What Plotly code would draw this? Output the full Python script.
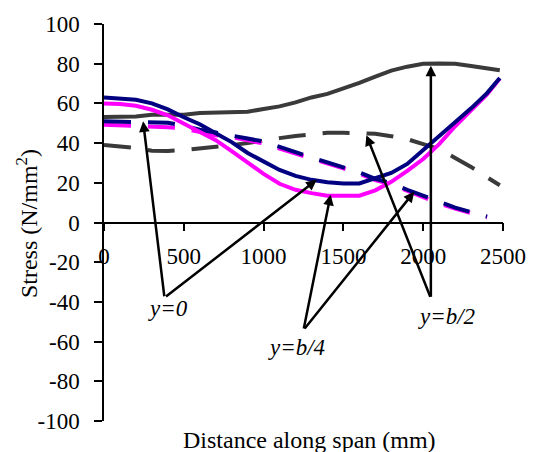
import plotly.graph_objects as go

# Distance along span (mm)
dist = [0, 100, 200, 300, 400, 500, 600, 700, 800, 900, 1000, 1100, 1200,
        1300, 1400, 1500, 1600, 1700, 1800, 1900, 2000, 2100, 2200, 2300,
        2400, 2480]

# Stress (N/mm^2) along the span
gray_solid = [53.2, 53.2, 53.4, 54.3, 54.3, 54.3, 55.2, 55.5, 55.6, 55.8,
              57.2, 58.5, 60.5, 63.0, 64.8, 67.5, 70.3, 73.5, 76.5, 78.5,
              80.0, 80.1, 80.0, 78.8, 77.8, 76.7]
gray_dash = [39.0, 38.3, 37.5, 36.2, 36.0, 36.5, 37.2, 38.0, 39.0, 40.0,
             41.5, 42.5, 43.6, 44.5, 45.2, 45.2, 45.2, 44.7, 43.5, 42.0,
             39.5, 37.0, 32.5, 28.0, 22.8, 18.8]
navy_solid = [63.0, 62.5, 61.8, 60.0, 57.0, 53.0, 49.5, 45.0, 40.5, 35.0,
              30.5, 26.5, 23.5, 21.5, 20.3, 19.7, 19.7, 22.5, 25.0, 29.5,
              36.5, 44.0, 51.0, 57.5, 65.2, 72.8]
magenta_solid = [60.0, 59.7, 58.8, 56.8, 54.0, 49.8, 45.2, 41.5, 36.0, 30.0,
                 24.5, 19.5, 16.5, 14.8, 13.5, 13.5, 13.5, 16.2, 20.5, 26.0,
                 32.0, 39.5, 48.5, 56.5, 64.5, 72.5]
navy_dash = [51.0, 50.8, 50.6, 50.5, 50.2, 48.8, 46.7, 45.3, 44.0, 42.3,
             40.8, 38.0, 35.6, 32.8, 30.3, 28.0, 25.2, 22.0, 19.8, 16.5,
             13.5, 10.0, 7.5, 5.2, 3.0, None]
magenta_dash = [49.2, 49.0, 48.5, 48.2, 48.0, 47.3, 45.5, 44.0, 43.0, 41.3,
                39.8, 37.2, 34.8, 32.0, 29.6, 27.3, 24.5, 21.4, 19.2, 16.0,
                13.0, 9.5, 7.0, 4.7, 2.5, None]

x_ticks = [0, 500, 1000, 1500, 2000, 2500]
y_ticks = [-100, -80, -60, -40, -20, 0, 20, 40, 60, 80, 100]
y_tick_text = ["-100", "-80", "-60", "-40", "-20", "0", "20", "40", "60", "80", "100"]

# Callout labels: (text, label position, arrow root, arrow targets)
callouts = [
    ("y=0", (404, -43.5), (379, -37.9), [(245, 51.0), (1333, 21.5)]),
    ("y=b/4", (1203, -63.0), (1250, -54.2), [(1420, 14.0), (1944, 15.5)]),
    ("y=b/2", (2146, -47.5), (2048, -38.2), [(2048, 79.0), (1644, 44.0)]),
]

GRAY = "#3a3a3a"
NAVY = "#000080"
MAGENTA = "#ff00ff"
DASH = "27px,17px"
FONT = "Liberation Serif"

fig = go.Figure()

series = [
    (gray_dash, GRAY, DASH),
    (magenta_dash, MAGENTA, DASH),
    (navy_dash, NAVY, DASH),
    (gray_solid, GRAY, "solid"),
    (magenta_solid, MAGENTA, "solid"),
    (navy_solid, NAVY, "solid"),
]
for ys, color, dash in series:
    fig.add_trace(go.Scatter(
        x=dist, y=ys, mode="lines",
        line=dict(color=color, width=4, dash=dash),
        connectgaps=False, showlegend=False, hoverinfo="skip",
    ))

annotations = []
for text, (tx, ty), (rx, ry), targets in callouts:
    for (px, py) in targets:
        annotations.append(dict(
            x=px, y=py, xref="x", yref="y",
            ax=rx, ay=ry, axref="x", ayref="y",
            text="", showarrow=True,
            arrowhead=2, arrowsize=0.85, arrowwidth=2.5, arrowcolor="black",
            standoff=0, startstandoff=0,
        ))
    annotations.append(dict(
        x=tx, y=ty, xref="x", yref="y", text=f"<i>{text}</i>",
        showarrow=False, xanchor="center", yanchor="middle",
        font=dict(family=FONT, size=23, color="black"),
    ))

# axis titles
annotations.append(dict(
    x=0.516, y=-0.0475, xref="paper", yref="paper",
    text="Distance along span (mm)", showarrow=False,
    xanchor="center", yanchor="middle",
    font=dict(family=FONT, size=24, color="black"),
))
annotations.append(dict(
    x=-0.1915, y=0.4975, xref="paper", yref="paper",
    text="Stress (N/mm<sup>2</sup>)", showarrow=False, textangle=-90,
    xanchor="center", yanchor="middle",
    font=dict(family=FONT, size=24, color="black"),
))

fig.update_layout(
    width=538, height=452,
    margin=dict(l=104, r=32, t=21, b=31),
    paper_bgcolor="white", plot_bgcolor="white",
    font=dict(family=FONT, size=23, color="black"),
    annotations=annotations,
    xaxis=dict(
        range=[0, 2500], tickvals=x_ticks,
        anchor="free", position=0.5,
        showline=True, linecolor="black", linewidth=1.5,
        ticks="outside", ticklen=8, tickcolor="black", tickwidth=1.5,
        showgrid=False, zeroline=False,
        ticklabelstandoff=5,
        tickfont=dict(family=FONT, size=23, color="black"),
    ),
    yaxis=dict(
        range=[-100, 100], tickvals=y_ticks, ticktext=y_tick_text,
        showline=True, linecolor="black", linewidth=1.5,
        ticks="outside", ticklen=8, tickcolor="black", tickwidth=1.5,
        showgrid=False, zeroline=False,
        ticklabelstandoff=10,
        tickfont=dict(family=FONT, size=23, color="black"),
    ),
)

fig.write_html("out.html")
